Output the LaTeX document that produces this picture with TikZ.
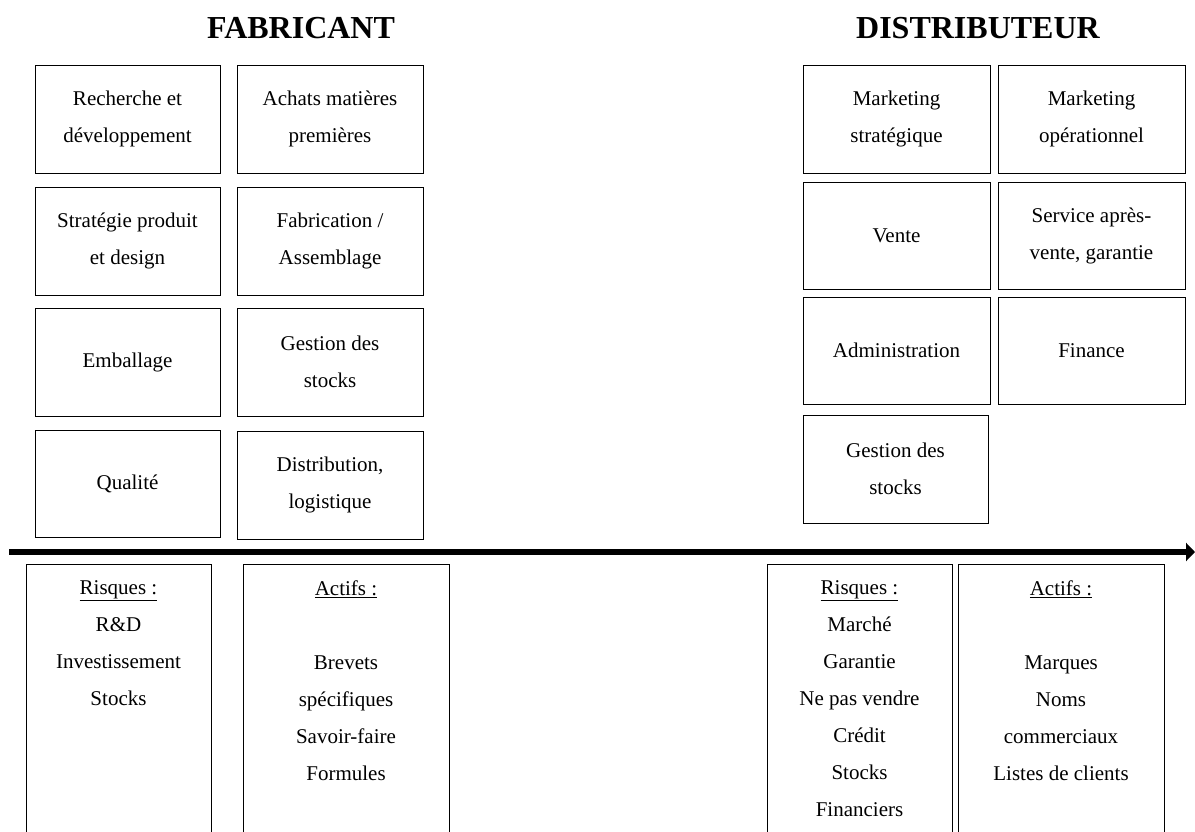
\documentclass[tikz,border=0pt]{standalone}
\usepackage{fontspec}
\setmainfont{Liberation Serif}
\usetikzlibrary{arrows.meta,positioning}

\begin{document}
\begin{tikzpicture}[x=1pt,y=-1pt,
		titre/.style={font=\fontsize{32}{40}\selectfont\bfseries, anchor=base},
		fonction/.style={draw, line width=0.9pt, minimum width=186pt, minimum height=108pt,
			inner sep=0pt, align=center, font=\fontsize{21}{37}\selectfont},
		panneau/.style={draw, line width=0.9pt, minimum height=300pt, inner sep=0pt},
		liste/.style={anchor=north, inner sep=0pt, align=center, font=\fontsize{21}{37}\selectfont}]
		%%%%% START %%%%%
		
		\useasboundingbox (0, 0) rectangle (1195, 832);
		
		\node[titre] (fab) at (301, 39) {FABRICANT};
		\node[titre] (dist) at (978, 39) {DISTRIBUTEUR};
		
		% fonctions du fabricant
		\node[fonction, minimum width=185pt] (rd) at (127.5, 119) {Recherche et\\développement};
		\node[fonction] (achats) at (330, 119) {Achats matières\\premières};
		\node[fonction, minimum width=185pt] (strat) at (127.5, 241) {Stratégie produit\\et design};
		\node[fonction] (fabric) at (330, 241) {Fabrication /\\Assemblage};
		\node[fonction, minimum width=185pt] (emb) at (127.5, 362) {Emballage};
		\node[fonction] (stockF) at (330, 362) {Gestion des\\stocks};
		\node[fonction, minimum width=185pt, minimum height=107pt] (qual) at (127.5, 483.5) {Qualité};
		\node[fonction] (logist) at (330, 485) {Distribution,\\logistique};
		
		% fonctions du distributeur
		\node[fonction, minimum width=187pt] (mkstrat) at (896.5, 119) {Marketing\\stratégique};
		\node[fonction, minimum width=187pt] (mkop) at (1091.5, 119) {Marketing\\opérationnel};
		\node[fonction, minimum width=187pt, minimum height=107pt] (vente) at (896.5, 235.5) {Vente};
		\node[fonction, minimum width=187pt, minimum height=107pt] (sav) at (1091.5, 235.5) {Service après-\\vente, garantie};
		\node[fonction, minimum width=187pt, minimum height=107pt] (admin) at (896.5, 350.5) {Administration};
		\node[fonction, minimum width=187pt, minimum height=107pt] (fin) at (1091.5, 350.5) {Finance};
		\node[fonction, minimum width=185pt] (stockD) at (895.5, 469) {Gestion des\\stocks};
		
		% axe fabricant -> distributeur
		\coordinate (axeA) at (9, 552);
		\coordinate (axeB) at (1195, 552);
		\draw[line width=6pt, -{Triangle[length=9pt, width=18pt]}] (axeA) -- (axeB);
		
		% risques et actifs
		\node[panneau, minimum width=185pt] (risqF) at (118.5, 714) {};
		\node[panneau, minimum width=206pt] (actF) at (346, 714) {};
		\node[panneau, minimum width=185pt] (risqD) at (859.5, 714) {};
		\node[panneau, minimum width=206pt] (actD) at (1061, 714) {};
		
		\node[liste, below=17pt of risqF.north] (lrisqF) {\underline{Risques :}\\R\&D\\Investissement\\Stocks};
		\node[liste, below=17pt of actF.north] (lactF) {\underline{Actifs :}\\[37pt]Brevets\\spécifiques\\Savoir-faire\\Formules};
		\node[liste, below=17pt of risqD.north] (lrisqD) {\underline{Risques :}\\Marché\\Garantie\\Ne pas vendre\\Crédit\\Stocks\\Financiers};
		\node[liste, below=17pt of actD.north] (lactD) {\underline{Actifs :}\\[37pt]Marques\\Noms\\commerciaux\\Listes de clients};
		
		%%%%% END %%%%%
	\end{tikzpicture}
\end{document}
